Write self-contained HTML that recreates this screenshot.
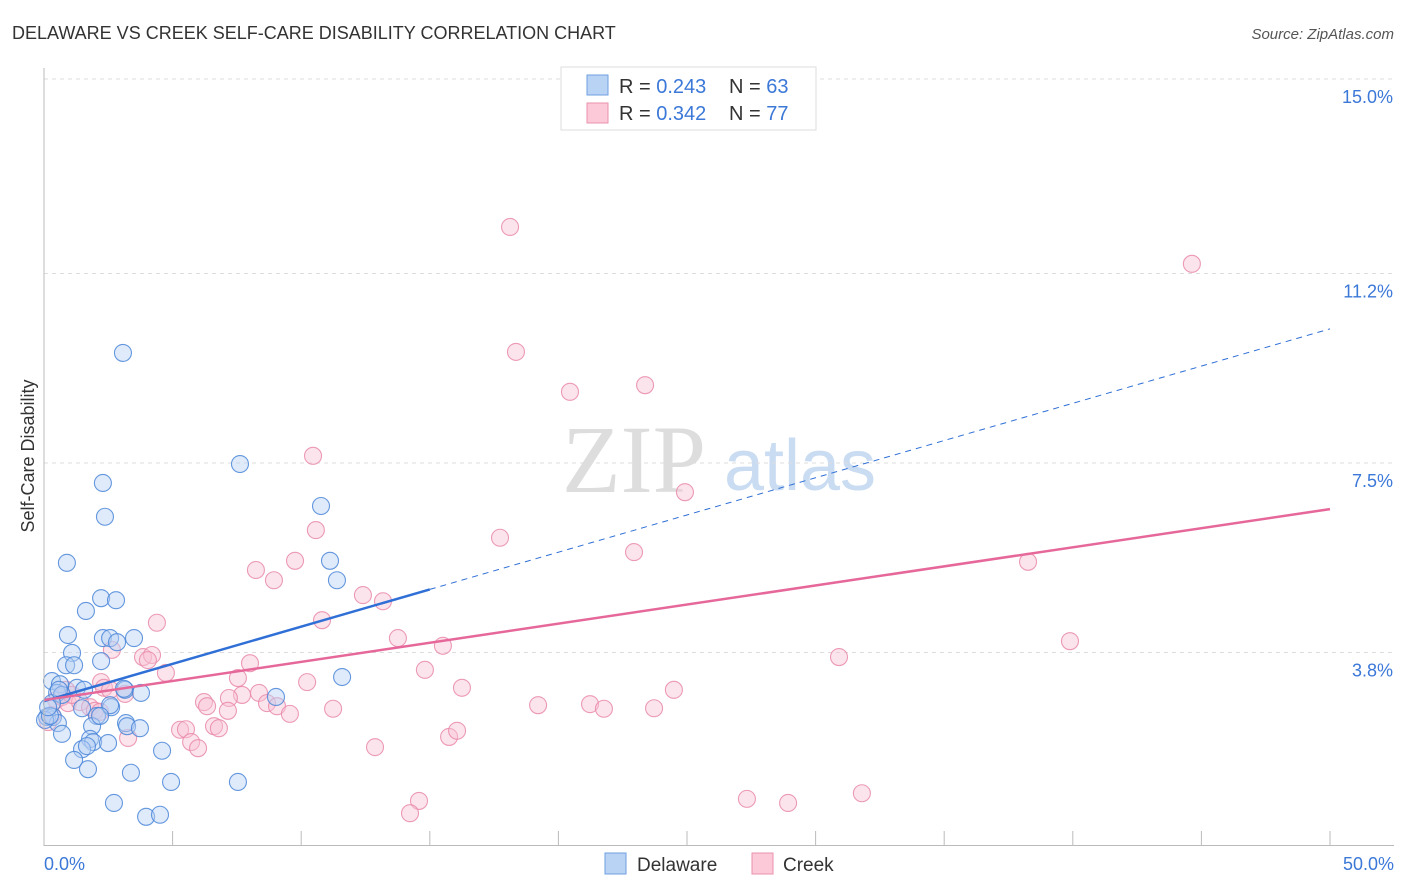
<!DOCTYPE html>
<html><head><meta charset="utf-8"><style>
body{margin:0;background:#fff;font-family:"Liberation Sans",sans-serif}
</style></head><body>
<svg id="c" width="1406" height="892" xmlns="http://www.w3.org/2000/svg" style="display:block;font-family:'Liberation Sans',sans-serif">
<text x="12" y="39" font-size="18" fill="#333">DELAWARE VS CREEK SELF-CARE DISABILITY CORRELATION CHART</text>
<text x="1394" y="39" font-size="15" fill="#555" font-style="italic" text-anchor="end">Source: ZipAtlas.com</text>
<text x="634" y="492" font-size="96" fill="#ddd" font-family="Liberation Serif,serif" text-anchor="middle">ZIP</text>
<text x="800" y="490" font-size="72" fill="#c9dcf2" text-anchor="middle">atlas</text>
<text x="34" y="456" font-size="18" fill="#333" text-anchor="middle" transform="rotate(-90 34 456)">Self-Care Disability</text>
<g id="grid"></g><g id="pts"></g><g id="lines"></g>
<line x1="44" y1="68" x2="44" y2="846" stroke="#bbb"/>
<line x1="44" y1="845.5" x2="1394" y2="845.5" stroke="#bbb"/>
<text x="44" y="870" font-size="18" fill="#3b78d8">0.0%</text>
<text x="1394" y="870" font-size="18" fill="#3b78d8" text-anchor="end">50.0%</text>
<g>
<rect x="561" y="67" width="255" height="63" fill="#fff" stroke="#ddd"/>
<rect x="587" y="75" width="21" height="20" fill="#b9d3f5" stroke="#6e9fe0"/>
<rect x="587" y="103" width="21" height="20" fill="#fbc9d8" stroke="#eb91ad"/>
<text x="619" y="93" font-size="20" fill="#333">R = <tspan fill="#3b78d8">0.243</tspan><tspan x="729">N = </tspan><tspan fill="#3b78d8">63</tspan></text>
<text x="619" y="120" font-size="20" fill="#333">R = <tspan fill="#3b78d8">0.342</tspan><tspan x="729">N = </tspan><tspan fill="#3b78d8">77</tspan></text>
</g>
<g>
<rect x="605" y="853" width="21" height="21" fill="#b9d3f5" stroke="#6e9fe0"/>
<text x="637" y="871" font-size="19" fill="#333">Delaware</text>
<rect x="752" y="853" width="21" height="21" fill="#fbc9d8" stroke="#eb91ad"/>
<text x="783" y="871" font-size="19" fill="#333">Creek</text>
</g>
</svg>
<script>
const yTicks=[15,11.2,7.5,3.8];
const yTickLabels=["15.0%","11.2%","7.5%","3.8%"];
const xTicks=[5,10,15,20,25,30,35,40,45,50];
const delawareX=[3.07,7.62,2.29,2.37,10.77,0.89,11.12,11.39,2.22,2.80,1.63,0.93,2.29,2.57,2.84,3.50,1.09,0.86,1.17,2.22,0.31,0.62,1.28,1.56,0.51,0.70,3.15,3.77,9.02,11.59,0.31,1.48,2.06,2.61,0.12,0.35,0.54,1.87,3.19,3.23,3.73,0.70,1.79,1.91,2.49,1.48,1.67,4.59,1.17,1.71,3.38,4.94,7.54,2.72,3.97,4.51,0.04,0.23,0.16,0.58,3.11,2.57,2.18];
const delawareY=[9.65,7.48,7.11,6.45,6.66,5.55,5.59,5.21,4.86,4.82,4.61,4.14,4.08,4.08,4.00,4.08,3.79,3.55,3.55,3.63,3.24,3.18,3.11,3.07,3.01,2.97,3.07,3.01,2.93,3.32,2.81,2.71,2.56,2.73,2.54,2.54,2.42,2.36,2.42,2.36,2.32,2.21,2.11,2.05,2.03,1.91,1.97,1.88,1.70,1.52,1.45,1.27,1.27,0.86,0.59,0.63,2.48,2.56,2.73,3.07,3.09,2.77,2.56];
const creekX=[18.12,44.63,18.35,20.45,23.37,10.46,24.92,10.57,17.73,22.94,8.24,9.76,8.94,38.26,10.81,12.40,13.18,4.39,13.76,15.51,39.89,30.91,2.64,3.85,4.20,4.04,8.01,4.74,7.54,10.23,14.81,16.25,24.49,2.22,2.33,7.70,8.36,6.22,6.34,8.67,9.06,7.19,7.15,9.56,11.24,19.21,21.23,21.77,23.72,5.29,5.52,6.61,6.80,5.72,5.99,3.27,12.87,15.75,16.06,27.33,28.93,31.80,14.58,14.23,0.16,0.31,0.47,0.70,0.93,1.40,1.79,1.98,2.18,0.86,1.09,2.57,3.15];
const creekY=[12.11,11.39,9.67,8.89,9.02,7.64,6.93,6.19,6.04,5.76,5.41,5.59,5.21,5.57,4.43,4.92,4.80,4.38,4.08,3.93,4.02,3.71,3.85,3.71,3.75,3.65,3.59,3.40,3.30,3.22,3.46,3.11,3.07,3.22,3.11,2.97,3.01,2.83,2.75,2.81,2.75,2.91,2.66,2.60,2.70,2.77,2.79,2.70,2.71,2.29,2.30,2.36,2.32,2.05,1.93,2.13,1.95,2.15,2.27,0.94,0.86,1.05,0.90,0.66,2.44,2.58,2.87,2.93,2.81,2.83,2.73,2.66,2.64,3.07,2.97,3.07,2.99];
const delawareTrend=[2.85,10.12];
const creekTrend=[2.87,6.60];
const delawareSolidEnd=15;
const NS="http://www.w3.org/2000/svg";
const xs=v=>44+v*(1286/50);
const ys=v=>847-v*51.2;
function mk(t,a,p){const e=document.createElementNS(NS,t);for(const k in a)e.setAttribute(k,a[k]);p.appendChild(e);return e;}
const grid=document.getElementById('grid'),svg=document.getElementById('c');
yTicks.forEach((v,i)=>{
 const l=mk('line',{x1:44,x2:1394,y1:ys(v),y2:ys(v),stroke:'#ddd','stroke-dasharray':'4,4'},grid);
 
 
 const t=mk('text',{x:1393,y:ys(v)+24,'font-size':18,fill:'#3b78d8','text-anchor':'end'},svg);
 t.textContent=yTickLabels[i];
 
 
});
xTicks.forEach(v=>{
 const l=mk('line',{x1:xs(v),x2:xs(v),y1:831,y2:846,stroke:'#bbb'},grid);
 
 
});
const pts=document.getElementById('pts');
function draw(X,Y,fill,stroke,name){X.forEach((x,i)=>{
 const c=mk('circle',{cx:xs(x),cy:ys(Y[i]),r:8.5,fill:fill,'fill-opacity':0.45,stroke:stroke,'stroke-width':1.1,'stroke-opacity':0.85},pts);
 
 
});}
draw(creekX,creekY,'#f9c4d4','#e98aaa','creek-point');
draw(delawareX,delawareY,'#b7d1f3','#4a86d8','delaware-point');
const lines=document.getElementById('lines');
const dl=v=>delawareTrend[0]+(delawareTrend[1]-delawareTrend[0])*v/50;
let a=mk('line',{x1:xs(0),y1:ys(dl(0)),x2:xs(delawareSolidEnd),y2:ys(dl(delawareSolidEnd)),stroke:'#2f6fd6','stroke-width':2.5},lines);


let b=mk('line',{x1:xs(delawareSolidEnd),y1:ys(dl(delawareSolidEnd)),x2:xs(50),y2:ys(dl(50)),stroke:'#2f6fd6','stroke-width':1,'stroke-dasharray':'6,5'},lines);


let c=mk('line',{x1:xs(0),y1:ys(creekTrend[0]),x2:xs(50),y2:ys(creekTrend[1]),stroke:'#e6689a','stroke-width':2.5},lines);


</script>
</body></html>
